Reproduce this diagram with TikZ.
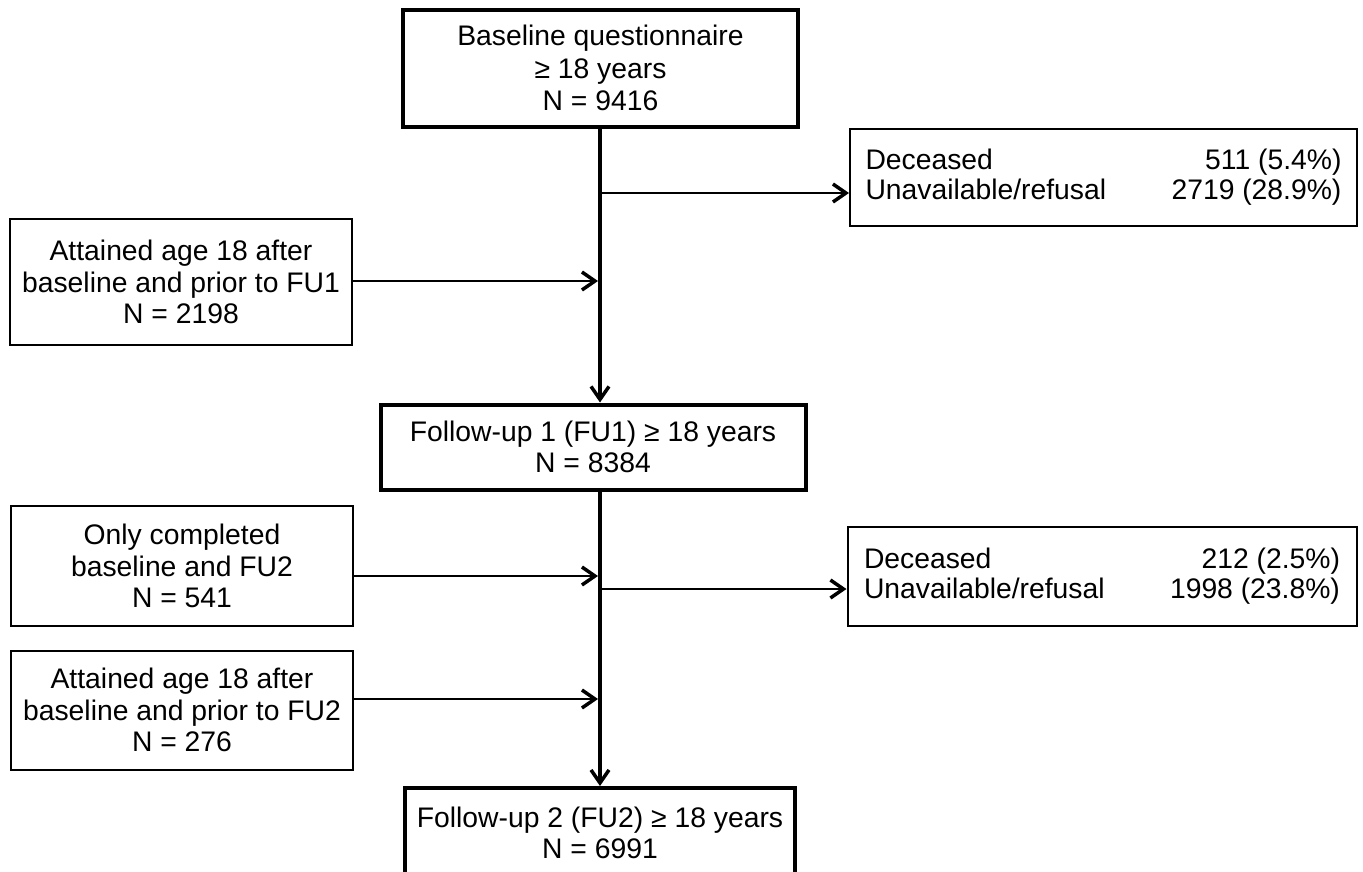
\documentclass[tikz,border=0pt]{standalone}
\usepackage{fontspec}
\setmainfont{Liberation Sans}
\usetikzlibrary{arrows.meta}
\begin{document}
\begin{tikzpicture}[x=1pt,y=-1pt,
  every node/.style={font=\fontsize{28.3}{31.5}\selectfont},
  thickbox/.style={draw, line width=4pt, inner sep=0pt, align=center},
  thinbox/.style={draw, line width=2pt, inner sep=0pt, align=center},
  trunk/.style={line width=4pt},
  side/.style={line width=2pt},
  tip/.style={-{Straight Barb[length=13pt,width=18pt,line width=3.5pt]}}
]
\useasboundingbox (0,0) rectangle (1363,871);
\clip (0,0) rectangle (1363,871);
\fill[white] (0,0) rectangle (1363,871);

% main boxes
\node[thickbox, minimum width=395pt, minimum height=117pt,
      font=\fontsize{28.3}{32.5}\selectfont] (base) at (600.5,68)
  {Baseline questionnaire\\≥ 18 years\\N = 9416};
\node[thickbox, minimum width=425pt, minimum height=85pt] (fu1) at (593,447)
  {Follow-up 1 (FU1) ≥ 18 years\\N = 8384};
\node[thickbox, minimum width=390pt, minimum height=90pt] (fu2) at (600,833)
  {Follow-up 2 (FU2) ≥ 18 years\\N = 6991};

% left boxes
\node[thinbox, minimum width=342pt, minimum height=126pt] (l1) at (181,282)
  {Attained age 18 after\\baseline and prior to FU1\\N = 2198};
\node[thinbox, minimum width=342pt, minimum height=120pt] (l2) at (182,566)
  {Only completed\\baseline and FU2\\N = 541};
\node[thinbox, minimum width=342pt, minimum height=119pt] (l3) at (182,710)
  {Attained age 18 after\\baseline and prior to FU2\\N = 276};

% right boxes
\node[thinbox, minimum width=507pt, minimum height=97pt, font=\fontsize{28.3}{30}\selectfont] (r1) at (1103.5,177.5)
  {\hbox to 476pt{Deceased\hfil 511 (5.4\%)}\\\hbox to 476pt{Unavailable/refusal\hfil 2719 (28.9\%)}};
\node[thinbox, minimum width=509pt, minimum height=99pt, font=\fontsize{28.3}{30}\selectfont] (r2) at (1102,576.5)
  {\hbox to 476pt{Deceased\hfil 212 (2.5\%)}\\\hbox to 476pt{Unavailable/refusal\hfil 1998 (23.8\%)}};

% junction coordinates on the trunk
\coordinate (j1) at (600,193);
\coordinate (j2) at (600,281);
\coordinate (j3) at (600,576);
\coordinate (j4) at (600,589);
\coordinate (j5) at (600,699);
\coordinate (t2) at (fu1.south -| j1);

% trunk
\draw[trunk, tip] (base.south -| j1) -- (j1 |- fu1.north);
\draw[trunk, tip] (t2) -- (t2 |- fu2.north);

% side arrows
\draw[side, tip] (j1) -- (j1 -| r1.west);
\draw[side, tip, shorten >=2pt] (l1.east |- j2) -- (j2);
\draw[side, tip, shorten >=2pt] (l2.east |- j3) -- (j3);
\draw[side, tip] (j4) -- (j4 -| r2.west);
\draw[side, tip, shorten >=2pt] (l3.east |- j5) -- (j5);
\end{tikzpicture}
\end{document}
